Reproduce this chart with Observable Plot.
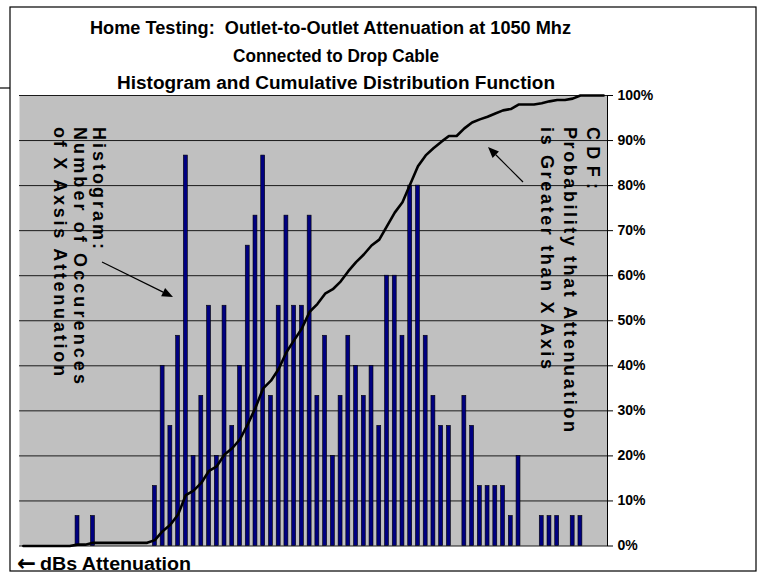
<!DOCTYPE html>
<html>
<head>
<meta charset="utf-8">
<script src="https://cdn.jsdelivr.net/npm/d3@7"></script>
<script src="https://cdn.jsdelivr.net/npm/@observablehq/plot@0.6"></script>
<style>
  html, body { margin: 0; padding: 0; background: #fff; }
  #chart svg { display: block; }
  #chart [aria-label="y-axis tick label"] text { font-weight: bold; font-size: 14px; }
</style>
</head>
<body>
<div id="chart"></div>
<script>
// ---- Data ----
// Histogram counts per attenuation bin (76 bins, left to right; hidden count axis 0..15)
const counts = [
  0,0,0,0,0,0,0,1,0,1,
  0,0,0,0,0,0,0,2,6,4,
  7,13,3,5,8,3,8,4,6,10,
  11,13,5,8,11,8,8,11,5,7,
  3,5,7,6,5,6,4,9,9,7,
  12,12,7,5,4,4,0,5,4,2,
  2,2,2,1,3,0,0,1,1,1,
  0,1,1,0,0,0
];
// Cumulative distribution (percent)
const cdfPct = [
  0,0,0,0,0,0,0,0.3,0.3,0.7,
  0.7,0.7,0.7,0.7,0.7,0.7,0.7,1.3,3.3,4.7,
  7.0,11.3,12.3,14.0,16.7,17.7,20.3,21.7,23.7,27.0,
  30.7,35.0,36.7,39.3,43.0,45.7,48.3,52.0,53.7,56.0,
  57.0,58.7,61.0,63.0,64.7,66.7,68.0,71.0,74.0,76.3,
  80.3,84.3,86.7,88.3,89.7,91.0,91.0,92.7,94.0,94.7,
  95.3,96.0,96.7,97.0,98.0,98.0,98.0,98.3,98.7,99.0,
  99.0,99.3,100,100,100,100
];
const bins = counts.map((_, i) => i);          // category index of each bin
const histMax = 15;                              // top of the hidden count axis
const pctTicks = [0,10,20,30,40,50,60,70,80,90,100];
const tickLabels = ["0%","10%","20%","30%","40%","50%","60%","70%","80%","90%","100%"];
const titleLines = [
  "Home Testing:  Outlet-to-Outlet Attenuation at 1050 Mhz",
  "Connected to Drop Cable",
  "Histogram and Cumulative Distribution Function"
];
const histNote = ["Histogram:", "Number of Occurences", "of X Axsis Attenuation"];
const cdfNote = ["CDF:", "Probability that Attenuation", "is Greater than X Axis"];
const xArrow = "\u2190";
const xLabel = "dBs Attenuation";

const data = bins.map((b, i) => ({bin: b, count: counts[i], cdf: cdfPct[i]}));

const plot = Plot.plot({
  width: 760,
  height: 577,
  marginLeft: 19,
  marginRight: 153,
  marginTop: 95,
  marginBottom: 31.5,
  style: {fontFamily: "'Liberation Sans', Arial, sans-serif", background: "#fff", color: "#000", overflow: "visible"},
  x: {type: "band", domain: bins, padding: 0, axis: null},
  y: {domain: [0, 100], axis: null},
  marks: [
    Plot.frame({fill: "#c0c0c0", stroke: "none"}),
    Plot.ruleY(pctTicks, {stroke: "#1a1a1a", strokeWidth: 1}),
    Plot.barY(data.filter(d => d.count > 0), {
      x: "bin", y: d => d.count / histMax * 100,
      fill: "#000080", stroke: "#000", strokeWidth: 0.6,
      insetLeft: 1.9, insetRight: 1.9
    }),
    Plot.lineY(data, {x: "bin", y: "cdf", stroke: "#000", strokeWidth: 2.6, strokeLinejoin: "round"}),
    Plot.axisY(pctTicks, {
      anchor: "right", tickSize: 5, tickPadding: 5, label: null,
      tickFormat: d => tickLabels[pctTicks.indexOf(d)],
      fontSize: 14, fontWeight: "bold"
    }),
    Plot.frame({anchor: "right", stroke: "#000"})
  ]
});

document.getElementById("chart").appendChild(plot);

// ---- Annotations (pixel layout) ----
const svg = d3.select(plot);
const font = "'Liberation Sans', Arial, sans-serif";

// outer chart border
svg.append("rect").attr("x", 10).attr("y", 7).attr("width", 746).attr("height", 564)
  .attr("fill", "none").attr("stroke", "#000").attr("stroke-width", 1.2);
svg.append("line").attr("x1", 0).attr("x2", 10).attr("y1", 88).attr("y2", 88)
  .attr("stroke", "#000").attr("stroke-width", 1.2);

// title
const titleX = [90, 233, 117];
const titleW = [481, 206, 438];
const titleY = [34, 62, 89];
titleLines.forEach((t, i) => {
  svg.append("text").text(t)
    .attr("x", titleX[i]).attr("y", titleY[i])
    .attr("text-anchor", "start")
    .attr("textLength", titleW[i]).attr("lengthAdjust", "spacingAndGlyphs")
    .attr("font-family", font).attr("font-size", 18).attr("font-weight", "bold")
    .attr("fill", "#000");
});

// vertical notes
function vnote(lines, xs, lens) {
  lines.forEach((t, i) => {
    svg.append("text").text(t)
      .attr("transform", `translate(${xs[i]},127) rotate(90)`)
      .attr("text-anchor", "start")
      .attr("textLength", lens[i]).attr("lengthAdjust", "spacing")
      .attr("font-family", font).attr("font-size", 18).attr("font-weight", "bold")
      .attr("fill", "#000");
  });
}
vnote(histNote, [93, 74, 54], [122, 257, 249]);
vnote(cdfNote, [587, 564, 541], [62, 305, 242]);

// arrows
function arrow(x1, y1, x2, y2) {
  const a = Math.atan2(y2 - y1, x2 - x1), L = 11, W = 4.5;
  const bx = x2 - L * Math.cos(a), by = y2 - L * Math.sin(a);
  svg.append("line").attr("x1", x1).attr("y1", y1).attr("x2", bx).attr("y2", by)
    .attr("stroke", "#000").attr("stroke-width", 1.2);
  svg.append("path")
    .attr("d", `M${x2},${y2}L${bx - W * Math.sin(a)},${by + W * Math.cos(a)}L${bx + W * Math.sin(a)},${by - W * Math.cos(a)}Z`)
    .attr("fill", "#000");
}
arrow(102, 262, 173, 297);
arrow(523, 182, 488, 147);

// x label
svg.append("text").text(xArrow)
  .attr("x", 17).attr("y", 571)
  .attr("text-anchor", "start")
  .attr("textLength", 19).attr("lengthAdjust", "spacingAndGlyphs")
  .attr("font-family", "'DejaVu Sans', sans-serif").attr("font-size", 23).attr("font-weight", "bold")
  .attr("fill", "#000");
svg.append("text").text(xLabel)
  .attr("x", 40).attr("y", 570)
  .attr("text-anchor", "start")
  .attr("textLength", 151).attr("lengthAdjust", "spacingAndGlyphs")
  .attr("font-family", font).attr("font-size", 18).attr("font-weight", "bold")
  .attr("fill", "#000");
</script>
</body>
</html>
